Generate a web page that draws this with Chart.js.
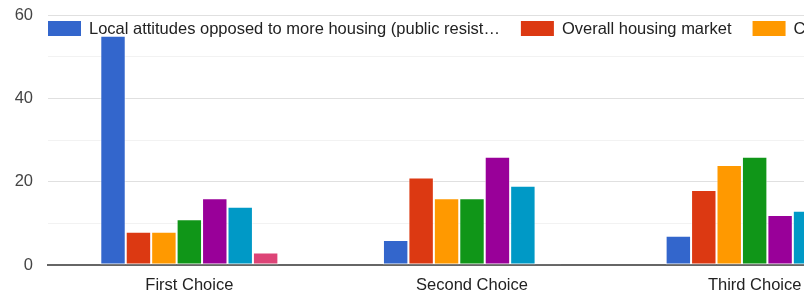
<!DOCTYPE html>
<html>
<head>
<meta charset="utf-8">
<script src="https://cdn.jsdelivr.net/npm/chart.js@4"></script>
<style>
  html, body { margin: 0; padding: 0; background: #fff; overflow: hidden; }
  #wrap { width: 804px; height: 293px; overflow: hidden; }
</style>
</head>
<body>
<div id="wrap"><canvas id="chart" width="904" height="293"></canvas></div>
<script>
// categories and series
const choices = ['First Choice', 'Second Choice', 'Third Choice'];
const seriesNames = [
    'Local attitudes opposed to more housing (public resistance)',
    'Overall housing market',
    'Cost of land and construction',
    'Zoning and regulations',
    'Lack of funding',
    'Infrastructure capacity',
    'Other'
];
const localAttitudes = [55, 6, 7];
const housingMarket = [8, 21, 18];
const costs = [8, 16, 24];
const zoning = [11, 16, 26];
const funding = [16, 26, 12];
const infrastructure = [14, 19, 13];
const other = [3, 0.2, 0];
const yTicks = [0, 20, 40, 60];

const colors = ['#3366cc', '#dc3912', '#ff9900', '#109618', '#990099', '#0099c6', '#dd4477'];
const values = [localAttitudes, housingMarket, costs, zoning, funding, infrastructure, other];
const fontFamily = '"Liberation Sans", Arial, sans-serif';

// google-style legend drawn over the top of the plot
const topLegend = {
    id: 'topLegend',
    afterDraw(chart) {
        const ctx = chart.ctx;
        ctx.save();
        ctx.font = '16.5px ' + fontFamily;
        ctx.textBaseline = 'middle';
        let x = 48;
        const y = 21;
        chart.data.datasets.forEach((ds, i) => {
            let label = ds.label;
            const maxW = 414;
            if (ctx.measureText(label).width > maxW) {
                while (label.length && ctx.measureText(label + '…').width > maxW) {
                    label = label.slice(0, -1);
                }
                label = label.trimEnd() + '…';
            }
            ctx.fillStyle = ds.backgroundColor;
            ctx.fillRect(x, y, 33, 15);
            ctx.fillStyle = '#222';
            ctx.fillText(label, x + 41, y + 8);
            x += 41 + ctx.measureText(label).width + 21;
        });
        ctx.restore();
    }
};

const ctx = document.getElementById('chart').getContext('2d');
new Chart(ctx, {
    type: 'bar',
    data: {
        labels: choices,
        datasets: seriesNames.map((name, i) => ({
            label: name,
            data: values[i],
            backgroundColor: colors[i],
            borderColor: 'rgba(255,255,255,0.6)',
            borderWidth: 1,
            borderSkipped: false,
            categoryPercentage: 0.63,
            barPercentage: 1
        }))
    },
    options: {
        responsive: false,
        animation: false,
        devicePixelRatio: 1,
        layout: { padding: { top: 15, right: 8, left: 0, bottom: 0 } },
        plugins: {
            legend: { display: false },
            tooltip: { enabled: false }
        },
        scales: {
            x: {
                grid: { display: false },
                border: { color: '#666', width: 2 },
                ticks: {
                    color: '#222',
                    font: { family: fontFamily, size: 16.5 },
                    padding: 3
                },
                afterFit(scale) { scale.height = 28; }
            },
            y: {
                min: 0,
                max: 60,
                grid: {
                    drawTicks: false,
                    color: ctx => (ctx.tick && yTicks.includes(ctx.tick.value)) ? '#e0e0e0' : '#f2f2f2',
                    lineWidth: 1
                },
                border: { display: false },
                ticks: {
                    stepSize: 10,
                    color: '#444',
                    padding: 15,
                    font: { family: fontFamily, size: 16.5 },
                    callback: v => yTicks.includes(v) ? v : ''
                },
                afterFit(scale) {
                    scale.width = 48;
                    scale.paddingTop = 0;
                    scale.paddingBottom = 0;
                }
            }
        }
    },
    plugins: [topLegend]
});
</script>
</body>
</html>
